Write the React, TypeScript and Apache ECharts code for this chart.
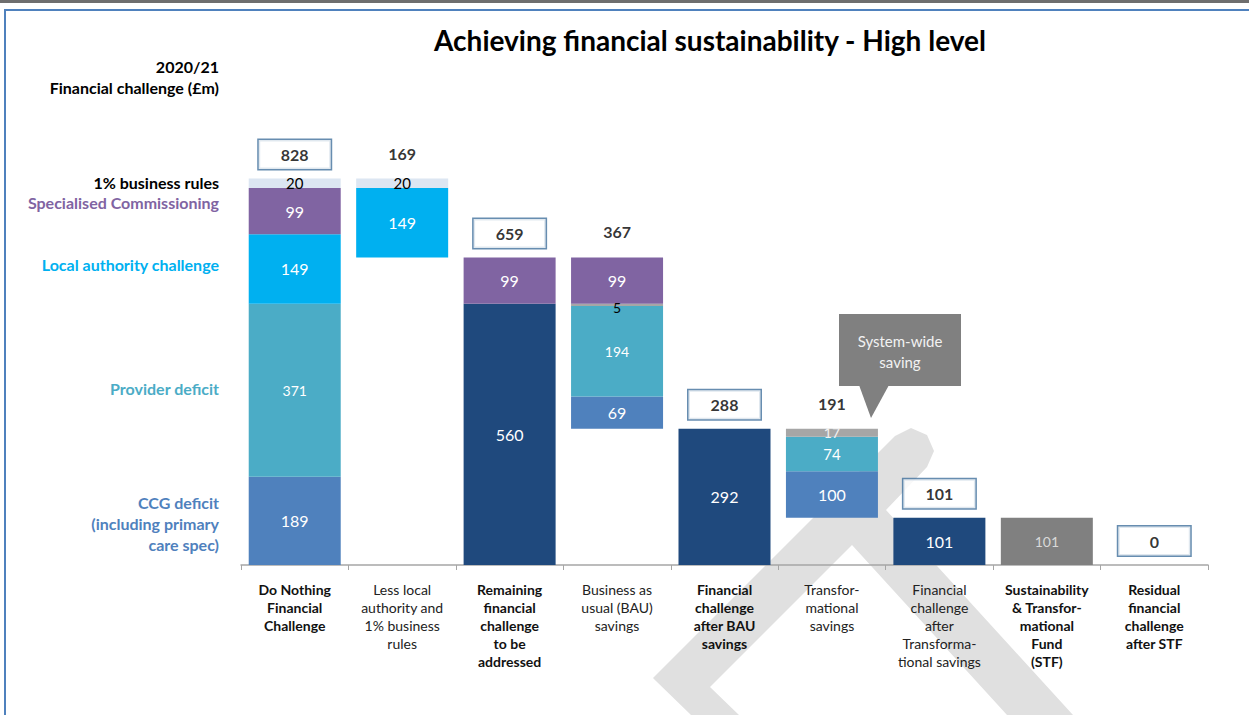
import React, { useEffect, useRef } from 'react';
import * as echarts from 'echarts';

const FONT = 'Lato, "Open Sans", sans-serif';

const categories = [
  'Do Nothing\nFinancial\nChallenge',
  'Less local\nauthority and\n1% business\nrules',
  'Remaining\nfinancial\nchallenge\nto be\naddressed',
  'Business as\nusual (BAU)\nsavings',
  'Financial\nchallenge\nafter BAU\nsavings',
  'Transfor-\nmational\nsavings',
  'Financial\nchallenge\nafter\nTransforma-\ntional savings',
  'Sustainability\n& Transfor-\nmational\nFund\n(STF)',
  'Residual\nfinancial\nchallenge\nafter STF',
];
const boldCategory = [true, false, true, false, true, false, false, true, true];

// stacked segments (null = none)
const baseValues = [null, 659, null, 292, null, 101, null, null, null];
const navyValues = [null, null, 560, null, 292, null, 101, null, null];
const ccgValues = [189, null, null, 69, null, 100, null, null, null];
const providerValues = [371, null, null, 194, null, 74, null, null, null];
const greyValues = [null, null, null, 5, null, 17, null, null, null];
const laValues = [149, 149, null, null, null, null, null, null, null];
const specValues = [99, null, 99, 99, null, null, null, null, null];
const rulesValues = [20, 20, null, null, null, null, null, null, null];
const stfValues = [null, null, null, null, null, null, null, 101, null];

// totals shown above bars
const totalTops = [828, 828, 659, 659, 292, 292, 101, null, 0];
const totalTexts = ['828', '169', '659', '367', '288', '191', '101', '', '0'];
const totalBoxed = [true, false, true, false, true, false, true, false, true];

const legendLabels = [
  { lines: ['1% business rules'], y: 182, color: '#000000' },
  { lines: ['Specialised Commissioning'], y: 202, color: '#8064a2' },
  { lines: ['Local authority challenge'], y: 264, color: '#00b0f0' },
  { lines: ['Provider deficit'], y: 388, color: '#4bacc6' },
  { lines: ['CCG deficit', '(including primary', 'care spec)'], y: 502, color: '#4f81bd' },
];

export default function App() {
  const ref = useRef<HTMLDivElement>(null);
  useEffect(() => {
    const chart = echarts.init(ref.current!, null, { renderer: 'svg' });

    const seg = (name: string, values: (number | null)[], color: string, label: any, overrides: Record<number, any> = {}) => ({
      type: 'bar',
      name,
      stack: 'w',
      barWidth: 92,
      data: values.map((v, i) => (v == null ? '-' : overrides[i] ? { value: v, label: overrides[i] } : v)),
      itemStyle: { color },
      label: { show: true, position: 'inside', color: '#ffffff', fontSize: 16, fontFamily: FONT, ...label },
      emphasis: { disabled: true },
      silent: true,
    });

    const graphics: any[] = [
      // watermark
      {
        type: 'polygon',
        z: -10,
        shape: {
          points: [
            [657, 674], [895, 436], [911, 428], [927, 435], [934, 451], [927, 467], [886, 510],
            [1073, 715], [1007, 715], [852, 545], [710, 687], [739, 715], [691, 715], [656, 681], [653, 678],
          ],
        },
        style: { fill: '#e0e0e0' },
        silent: true,
      },
      { type: 'rect', shape: { x: 0, y: 0, width: 1249, height: 3 }, style: { fill: '#6e6e6e' }, silent: true },
      { type: 'rect', shape: { x: 5, y: 10, width: 1300, height: 800 }, style: { fill: 'none', stroke: '#4f81bd', lineWidth: 2 }, silent: true },
      {
        type: 'text', x: 710, y: 40,
        style: { text: 'Achieving financial sustainability - High level', textAlign: 'center', textVerticalAlign: 'middle', font: `bold 28px ${FONT}`, fill: '#000' },
      },
      {
        type: 'text', x: 219, y: 66,
        style: { text: '2020/21', textAlign: 'right', textVerticalAlign: 'middle', font: `bold 16px ${FONT}`, fill: '#000' },
      },
      {
        type: 'text', x: 219, y: 87,
        style: { text: 'Financial challenge (£m)', textAlign: 'right', textVerticalAlign: 'middle', font: `bold 16px ${FONT}`, fill: '#000' },
      },
      // callout
      { type: 'rect', shape: { x: 839, y: 314, width: 122, height: 72 }, style: { fill: '#808080' }, silent: true },
      { type: 'polygon', shape: { points: [[859, 385], [889, 385], [871, 418]] }, style: { fill: '#808080' }, silent: true },
      {
        type: 'text', x: 900, y: 351,
        style: { text: 'System-wide\nsaving', textAlign: 'center', textVerticalAlign: 'middle', font: `15px ${FONT}`, lineHeight: 21, fill: '#f2f2f2' },
      },
    ];
    legendLabels.forEach((l) => {
      l.lines.forEach((line, k) => {
        graphics.push({
          type: 'text', x: 219, y: l.y + k * 21,
          style: { text: line, textAlign: 'right', textVerticalAlign: 'middle', font: `bold 16px ${FONT}`, fill: l.color },
        });
      });
    });

    const option: any = {
      animation: false,
      backgroundColor: '#ffffff',
      grid: { left: 241, right: 41, top: 145, bottom: 150 },
      xAxis: {
        type: 'category',
        data: categories,
        axisLine: { lineStyle: { color: '#a6a6a6', width: 1.5 } },
        axisTick: { show: true, length: 5, lineStyle: { color: '#a6a6a6' } },
        axisLabel: {
          interval: 0,
          margin: 15,
          formatter: (value: string, index: number) =>
            value.split('\n').map((l) => `{${boldCategory[index] ? 'b' : 'n'}|${l}}`).join('\n'),
          rich: {
            b: { fontWeight: 'bold', fontSize: 14, lineHeight: 18, color: '#111111', fontFamily: FONT },
            n: { fontSize: 14, lineHeight: 18, color: '#222222', fontFamily: FONT },
          },
        },
      },
      yAxis: { type: 'value', min: 0, max: 900, show: false },
      graphic: { elements: graphics },
      series: [
        {
          type: 'bar', name: 'base', stack: 'w', barWidth: 92,
          data: baseValues.map((v) => (v == null ? '-' : v)),
          itemStyle: { color: 'rgba(0,0,0,0)' }, silent: true, emphasis: { disabled: true },
        },
        seg('navy', navyValues, '#1f497d', {}),
        seg('ccg', ccgValues, '#4f81bd', {}),
        seg('provider', providerValues, '#4bacc6', { fontSize: 14 }, { 5: { fontSize: 15 } }),
        seg('grey', greyValues, '#a6a6a6', {}, {
          3: { color: '#000000', offset: [0, 3], fontSize: 14 },
          5: { color: '#f2f2f2', fontSize: 14 },
        }),
        seg('la', laValues, '#00b0f0', {}),
        seg('spec', specValues, '#8064a2', {}),
        seg('rules', rulesValues, '#dce6f2', { color: '#000000', fontSize: 15 }),
        seg('stf', stfValues, '#808080', { color: '#d9d9d9', fontSize: 14 }),
        {
          type: 'scatter',
          name: 'totals',
          symbolSize: 1,
          itemStyle: { color: 'rgba(0,0,0,0)' },
          silent: true,
          z: 6,
          data: totalTops.map((v, i) =>
            v == null || totalTexts[i] === ''
              ? '-'
              : {
                  value: v,
                  label: totalBoxed[i]
                    ? {
                        show: true, position: 'top', distance: 9,
                        formatter: totalTexts[i],
                        backgroundColor: '#ffffff', borderColor: '#41719c', borderWidth: 1.5,
                        width: 72, height: 29, lineHeight: 29, align: 'center',
                        fontSize: 16, fontWeight: 'bold', color: '#000000', fontFamily: FONT,
                      }
                    : {
                        show: true, position: 'top', distance: 17,
                        formatter: totalTexts[i],
                        fontSize: 16, fontWeight: 'bold', color: '#000000', fontFamily: FONT,
                      },
                }
          ),
        },
      ],
    };
    chart.setOption(option);
    return () => chart.dispose();
  }, []);
  return (
    <div
      ref={ref}
      style={{ position: 'fixed', left: 0, top: 0, width: 1249, height: 715, background: '#fff' }}
    />
  );
}
